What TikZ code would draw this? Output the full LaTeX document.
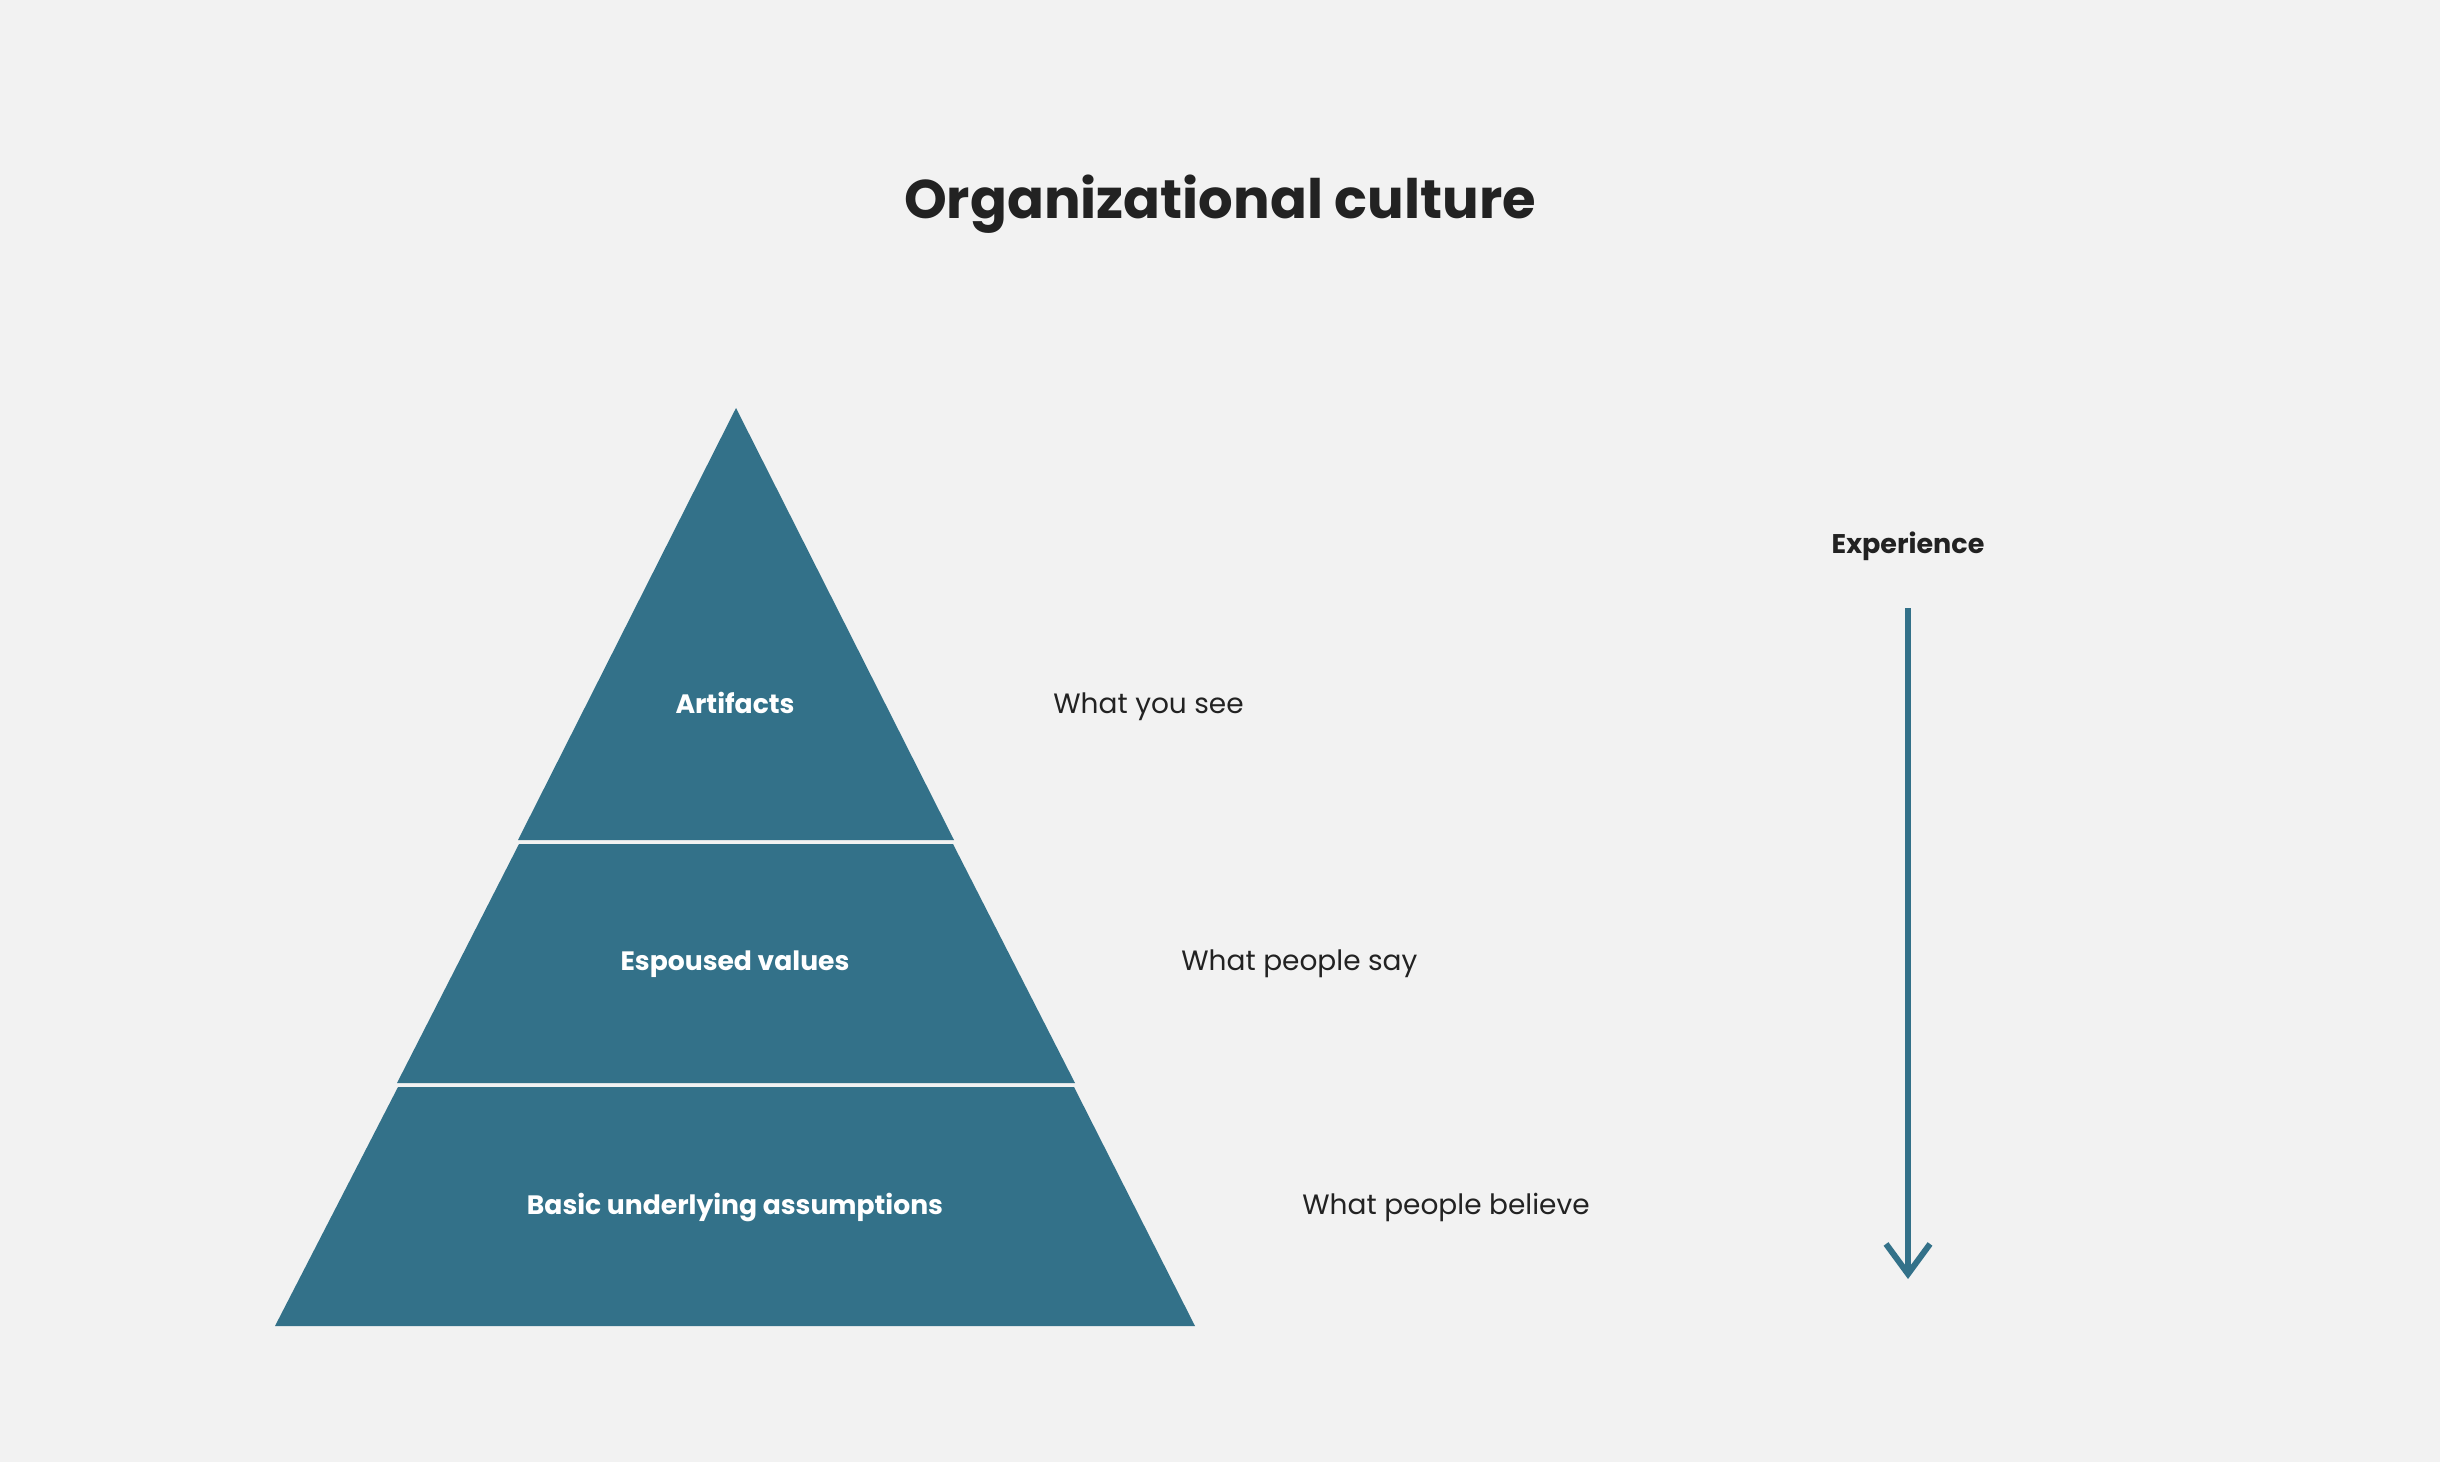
\documentclass[tikz,border=0pt]{standalone}
\usepackage{fontspec}
\setmainfont{Poppins}
\usetikzlibrary{arrows.meta,positioning}

\definecolor{bgcol}{HTML}{F2F2F2}
\definecolor{layercol}{HTML}{337189}
\definecolor{inkcol}{HTML}{222222}

\begin{document}
\begin{tikzpicture}[x=0.5pt,y=-0.5pt,>={Straight Barb[length=15pt,width=22pt]}]

		\tikzstyle{layer}=[fill=layercol,draw=none]
		\tikzstyle{layertext}=[text=white,font=\fontsize{13.3}{16}\selectfont\bfseries,anchor=base]
		\tikzstyle{saytext}=[text=inkcol,font=\fontsize{14}{16}\selectfont,anchor=base west,inner sep=0pt]
		\fill[bgcol] (0,0) rectangle (2440,1462);
		\useasboundingbox (0,0) rectangle (2440,1462);

		\node [text=inkcol,font=\fontsize{27.2}{33}\selectfont\bfseries,anchor=base] (title) at (1220,218) {Organizational culture};

		% pyramid layers
		\fill [layer] (736,408) -- (954,840) -- (518,840) -- cycle;
		\fill [layer] (519,844) -- (953,844) -- (1075,1083) -- (397,1083) -- cycle;
		\fill [layer] (398,1087) -- (1074,1087) -- (1195,1326) -- (275,1326) -- cycle;

		\node [layertext] (artifacts) at (735,713) {Artifacts};
		\node [layertext] (values) at (735,970) {Espoused values};
		\node [layertext] (assumptions) at (735,1214) {Basic underlying assumptions};

		\node [saytext] (see) at (1053,713) {What you see};
		\node [saytext] (say) at (1181,970) {What people say};
		\node [saytext] (believe) at (1302,1214) {What people believe};

		\node [text=inkcol,font=\fontsize{13.5}{16}\selectfont\bfseries,anchor=base] (experience) at (1908,553) {Experience};
		\coordinate (exptop) at (1908,608);
		\coordinate (expbot) at (1908,1279);
		\draw [->,draw=layercol,line width=3pt] (exptop) -- (expbot);
\end{tikzpicture}
\end{document}
